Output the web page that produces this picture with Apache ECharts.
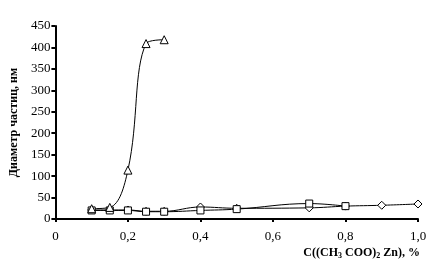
<!DOCTYPE html>
<html><head><meta charset="utf-8">
<script src="https://cdn.jsdelivr.net/npm/echarts@6/dist/echarts.min.js"></script>
<style>html,body{margin:0;padding:0;background:#fff}#c{width:432px;height:271px}</style>
</head><body><div id="c"></div>
<script>
var xTicks = [0, 0.2, 0.4, 0.6, 0.8, 1.0];
var yTicks = [0, 50, 100, 150, 200, 250, 300, 350, 400, 450];
var triX = [0.1, 0.15, 0.2, 0.25, 0.3];
var triY = [24, 27, 114, 409, 418];
var sqX = [0.1, 0.15, 0.2, 0.25, 0.3, 0.4, 0.5, 0.7, 0.8];
var sqY = [20, 20, 20, 17, 17, 20, 23, 36, 30];
var diaX = [0.1, 0.15, 0.2, 0.25, 0.3, 0.4, 0.5, 0.7, 0.8, 0.9, 1.0];
var diaY = [21, 21, 21, 18, 18, 28, 25, 26, 30, 32, 35];

function pairs(xs, ys){ return xs.map(function(x,i){return [x, ys[i]];}); }
var font = '"Liberation Serif", "Times New Roman", serif';
var chart = echarts.init(document.getElementById('c'), null, {renderer:'canvas'});
function ser(name, xs, ys, sym, size){
  return {name:name, type:'line', data:pairs(xs,ys), smooth:0.4, symbol:sym, symbolSize:size,
    lineStyle:{color:'#000', width:1}, itemStyle:{color:'#fff', borderColor:'#000', borderWidth:1},
    emphasis:{disabled:true}, z:3};
}
chart.setOption({
  animation:false,
  textStyle:{fontFamily:font},
  grid:{left:54, right:14, top:26, bottom:52, containLabel:false},
  xAxis:{type:'value', min:0, max:1, interval:0.2,
    axisLine:{lineStyle:{color:'#000', width:2}},
    axisTick:{show:true, length:3, inside:false, lineStyle:{color:'#000', width:2}},
    splitLine:{show:false},
    axisLabel:{color:'#000', fontFamily:font, fontSize:13, margin:11,
      formatter:function(v){ return v===0?'0':v.toFixed(1).replace('.',','); }}
  },
  yAxis:{type:'value', min:0, max:450, interval:50,
    name:'Диаметр частиц, нм', nameLocation:'middle', nameGap:32, nameRotate:90,
    nameTextStyle:{color:'#000', fontFamily:font, fontSize:12, fontWeight:'bold'},
    axisLine:{show:true, lineStyle:{color:'#000', width:2}},
    axisTick:{show:true, length:4, lineStyle:{color:'#000', width:2}},
    splitLine:{show:false},
    axisLabel:{color:'#000', fontFamily:font, fontSize:13, margin:5}
  },
  graphic:[{type:'text', right:12, top:247,
    style:{text:'{b|С((CH}{s|3}{b| COO)}{s|2}{b| Zn), %}', fill:'#000',
      rich:{b:{fontFamily:font, fontSize:12, fontWeight:'bold', fill:'#000'},
            s:{fontFamily:font, fontSize:8, fontWeight:'bold', fill:'#000', padding:[6,0,0,0]}}}}],
  series:[ser('d', diaX, diaY, 'diamond', 8), ser('s', sqX, sqY, 'rect', 7), ser('t', triX, triY, 'triangle', 8)]
});
</script></body></html>
